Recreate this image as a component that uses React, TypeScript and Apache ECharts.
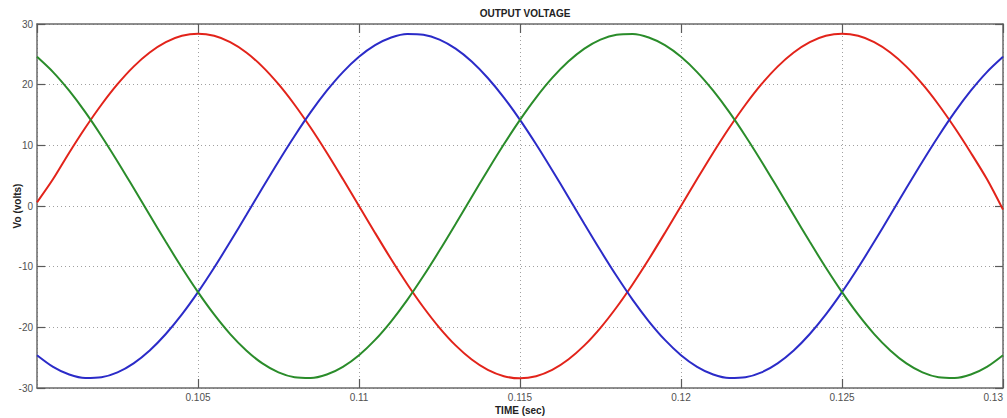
import React, { useEffect, useRef } from "react";
import * as echarts from "echarts";

const time = [
  0.1, 0.1005, 0.101, 0.1015, 0.102, 0.1025, 0.103, 0.1035, 0.104, 0.1045,
  0.105, 0.1055, 0.106, 0.1065, 0.107, 0.1075, 0.108, 0.1085, 0.109, 0.1095,
  0.11, 0.1105, 0.111, 0.1115, 0.112, 0.1125, 0.113, 0.1135, 0.114, 0.1145,
  0.115, 0.1155, 0.116, 0.1165, 0.117, 0.1175, 0.118, 0.1185, 0.119, 0.1195,
  0.12, 0.1205, 0.121, 0.1215, 0.122, 0.1225, 0.123, 0.1235, 0.124, 0.1245,
  0.125, 0.1255, 0.126, 0.1265, 0.127, 0.1275, 0.128, 0.1285, 0.129, 0.1295,
  0.13,
];

const phaseRed = [
  0.6, 4.44, 8.78, 12.89, 16.69, 20.08, 22.98, 25.3, 27.01, 28.05,
  28.4, 28.05, 27.01, 25.3, 22.98, 20.08, 16.69, 12.89, 8.78, 4.44,
  0, -4.44, -8.78, -12.89, -16.69, -20.08, -22.98, -25.3, -27.01, -28.05,
  -28.4, -28.05, -27.01, -25.3, -22.98, -20.08, -16.69, -12.89, -8.78, -4.44,
  0, 4.44, 8.78, 12.89, 16.69, 20.08, 22.98, 25.3, 27.01, 28.05,
  28.4, 28.05, 27.01, 25.3, 22.98, 20.08, 16.69, 12.89, 8.78, 4.44,
  -0.6,
];

const phaseBlue = [
  -24.59, -26.51, -27.78, -28.36, -28.24, -27.43, -25.94, -23.82, -21.1, -17.87,
  -14.2, -10.18, -5.9, -1.49, 2.97, 7.35, 11.55, 15.47, 19.0, 22.07,
  24.59, 26.51, 27.78, 28.36, 28.24, 27.43, 25.94, 23.82, 21.1, 17.87,
  14.2, 10.18, 5.9, 1.49, -2.97, -7.35, -11.55, -15.47, -19.0, -22.07,
  -24.59, -26.51, -27.78, -28.36, -28.24, -27.43, -25.94, -23.82, -21.1, -17.87,
  -14.2, -10.18, -5.9, -1.49, 2.97, 7.35, 11.55, 15.47, 19.0, 22.07,
  24.59,
];

const phaseGreen = [
  24.59, 22.07, 19.0, 15.47, 11.55, 7.35, 2.96, -1.48, -5.91, -10.18,
  -14.2, -17.87, -21.11, -23.81, -25.95, -27.43, -28.24, -28.36, -27.78, -26.51,
  -24.59, -22.07, -19.0, -15.47, -11.55, -7.35, -2.96, 1.48, 5.91, 10.18,
  14.2, 17.87, 21.11, 23.81, 25.95, 27.43, 28.24, 28.36, 27.78, 26.51,
  24.59, 22.07, 19.0, 15.47, 11.55, 7.35, 2.96, -1.48, -5.91, -10.18,
  -14.2, -17.87, -21.11, -23.81, -25.95, -27.43, -28.24, -28.36, -27.78, -26.51,
  -24.59,
];

const titleText = "OUTPUT VOLTAGE";
const xName = "TIME (sec)";
const yName = "Vo (volts)";

const FONT = "'Liberation Sans', Arial, sans-serif";

function pairs(ys: number[]) {
  return ys.map((v, i) => [time[i], v]);
}

export default function App() {
  const ref = useRef<HTMLDivElement>(null);
  useEffect(() => {
    if (!ref.current) return;
    const chart = echarts.init(ref.current, undefined, { renderer: "svg" });
    const axisLine = { show: true, onZero: false, lineStyle: { color: "#6a6a6a", width: 1.5 } };
    const tickStyle = { color: "#5a5a5a", width: 1.2 };
    const split = { show: true, lineStyle: { color: "#a0a0a0", type: [1, 3] as any, width: 1 } };
    const xBase = { type: "value" as const, min: 0.1, max: 0.13, interval: 0.005 };
    const yBase = { type: "value" as const, min: -30, max: 30, interval: 10 };
    const lineSeries = (name: string, ys: number[], color: string) => ({
      name,
      type: "line",
      smooth: 0.3,
      showSymbol: false,
      symbol: "none",
      data: pairs(ys),
      lineStyle: { color, width: 2 },
      itemStyle: { color },
    });
    chart.setOption({
      animation: false,
      backgroundColor: "#ffffff",
      grid: { left: 37, right: 4, top: 24, bottom: 30, containLabel: false, outerBoundsMode: "none" },
      graphic: [
        {
          type: "text",
          x: 525,
          y: 8,
          style: {
            text: titleText,
            textAlign: "center",
            textVerticalAlign: "top",
            font: `bold 10px ${FONT}`,
            fill: "#222",
          },
        },
      ],
      xAxis: [
        {
          ...xBase,
          position: "bottom",
          name: xName,
          nameLocation: "middle",
          nameGap: 17,
          nameMoveOverlap: false,
          nameTextStyle: { fontFamily: FONT, fontWeight: "bold", fontSize: 10, color: "#222" },
          axisLine,
          axisTick: { show: true, inside: true, length: 9, lineStyle: tickStyle },
          axisLabel: {
            showMinLabel: false,
            alignMaxLabel: "right",
            fontFamily: FONT,
            fontSize: 10,
            color: "#505050",
            margin: 4,
            formatter: (v: number) => String(Number(v.toFixed(3))),
          },
          splitLine: split,
        },
        {
          ...xBase,
          position: "top",
          axisLine,
          axisTick: { show: true, inside: true, length: 9, lineStyle: tickStyle },
          axisLabel: { show: false },
          splitLine: { show: false },
        },
      ],
      yAxis: [
        {
          ...yBase,
          position: "left",
          name: yName,
          nameLocation: "middle",
          nameGap: 15,
          nameMoveOverlap: false,
          nameTextStyle: { fontFamily: FONT, fontWeight: "bold", fontSize: 10, color: "#222" },
          axisLine,
          axisTick: { show: true, inside: true, length: 8, lineStyle: tickStyle },
          axisLabel: { fontFamily: FONT, fontSize: 10, color: "#505050", margin: 4 },
          splitLine: split,
        },
        {
          ...yBase,
          position: "right",
          axisLine,
          axisTick: { show: true, inside: true, length: 8, lineStyle: tickStyle },
          axisLabel: { show: false },
          splitLine: { show: false },
        },
      ],
      series: [
        lineSeries("Phase A", phaseRed, "#e2231a"),
        lineSeries("Phase B", phaseBlue, "#2b2bc8"),
        lineSeries("Phase C", phaseGreen, "#2a8c2a"),
      ],
    });
    return () => chart.dispose();
  }, []);
  return (
    <div
      ref={ref}
      style={{ position: "fixed", left: 0, top: 0, width: 1007, height: 418, background: "#fff" }}
    />
  );
}
